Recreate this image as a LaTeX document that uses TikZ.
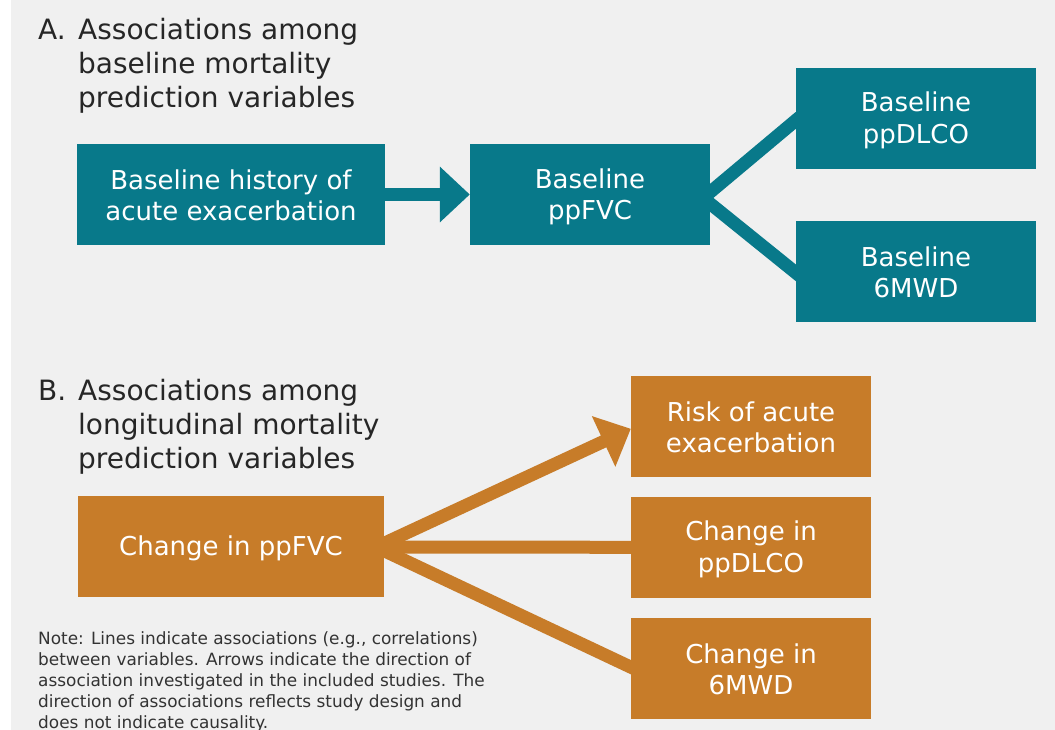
\documentclass[tikz,border=0pt]{standalone}
\usepackage{fontspec}
\setmainfont{DejaVu Sans}
\usetikzlibrary{arrows.meta,calc}
\definecolor{tealc}{HTML}{08798A}
\definecolor{orangec}{HTML}{C77C29}
\definecolor{bgc}{HTML}{F0F0F0}
\definecolor{titlec}{HTML}{262626}
\definecolor{notec}{HTML}{333333}
\pgfdeclarelayer{bg}
\pgfdeclarelayer{lines}
\pgfsetlayers{bg,lines,main}
\newcommand\bxs{\rule[-3pt]{0pt}{27pt}}
\tikzset{
  box/.style={draw=none, text=white, inner sep=0pt, align=center,
    minimum width=240pt, minimum height=101pt,
    font=\fontsize{26}{31.5}\selectfont},
  boxA/.style={box, fill=tealc},
  boxB/.style={box, fill=orangec},
  titletext/.style={anchor=base west, align=left, inner sep=0pt, text=titlec,
    font=\fontsize{28}{34}\selectfont},
  notetext/.style={anchor=base west, align=left, inner sep=0pt, text=notec,
    font=\fontsize{16.9}{21}\selectfont},
  linkA/.style={draw=tealc, line width=13pt},
  linkB/.style={draw=orangec, line width=13pt},
  arrowA/.style={linkA, -{Triangle[length=30pt,width=54pt]}, color=tealc},
  arrowB/.style={linkB, -{Triangle[length=30pt,width=54pt]}, color=orangec},
}
\begin{document}
\begin{tikzpicture}[x=1pt,y=-1pt]
\useasboundingbox (0,0) rectangle (1055,730);
\begin{pgfonlayer}{bg}
\fill[white] (0,0) rectangle (1055,730);
\fill[bgc] (11,0) rectangle (1055,730);
\end{pgfonlayer}

% Titles (base anchor = baseline of the last line)
\node[titletext] (tAl) at (38,40) {A.};
\node[titletext] (tA) at (78,108) {Associations among\\baseline mortality\\prediction variables};
\node[titletext] (tBl) at (38,400) {B.};
\node[titletext] (tB) at (78,468) {Associations among\\longitudinal mortality\\prediction variables};

% Part A boxes
\node[boxA, minimum width=308pt] (A1) at (231,194.5) {\bxs Baseline history of\\acute exacerbation\bxs};
\node[boxA] (A2) at (590,194.5) {\bxs Baseline\\ppFVC\bxs};
\node[boxA] (A3) at (916,118.3) {\bxs Baseline\\ppDLCO\bxs};
\node[boxA] (A4) at (916,271.3) {\bxs Baseline\\6MWD\bxs};

% Part B boxes
\node[boxB, minimum width=306pt] (B1) at (231,546.5) {\bxs Change in ppFVC\bxs};
\node[boxB] (B2) at (751,426.3) {\bxs Risk of acute\\exacerbation\bxs};
\node[boxB] (B3) at (751,547.3) {\bxs Change in\\ppDLCO\bxs};
\node[boxB] (B4) at (751,668.3) {\bxs Change in\\6MWD\bxs};

% Note
\node[notetext] (note) at (38,728) {Note: Lines indicate associations (e.g., correlations)\\between variables. Arrows indicate the direction of\\association investigated in the included studies. The\\direction of associations reflects study design and\\does not indicate causality.};

% Connectors
\begin{pgfonlayer}{lines}
\draw[arrowA] (A1.east) -- (A2.west);
\draw[linkA] ($(A2.east)+(-7,3.5)$) -- ($(A3.west)+(4,-1.3)$);
\draw[linkA] ($(A2.east)+(-7,3.5)$) -- ($(A4.west)+(4,4.7)$);
\draw[arrowB] ($(B1.east)+(-8,0.5)$) -- ($(B2.west)+(0,2.5)$);
\draw[linkB] ($(B1.east)+(-8,0.5)$) -- ($(B3.west)+(5,0)$);
\draw[linkB] ($(B1.east)+(-8,0.5)$) -- ($(B4.west)+(5,1.2)$);
\end{pgfonlayer}
\end{tikzpicture}
\end{document}
